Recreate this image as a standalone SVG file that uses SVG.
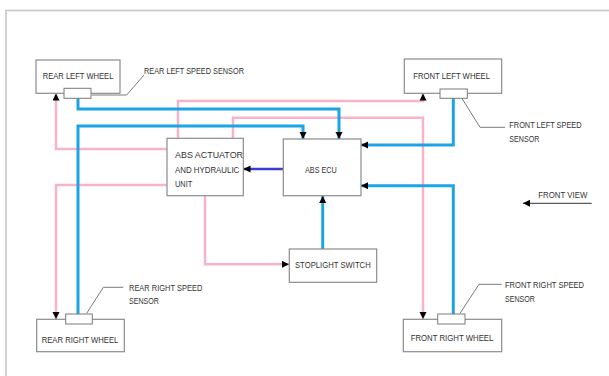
<svg xmlns="http://www.w3.org/2000/svg" width="609" height="376" viewBox="0 0 609 376">
<style>
.box{fill:#fff;stroke:#8c8c8c;stroke-width:1.2}
.sen{fill:#fff;stroke:#7a7a7a;stroke-width:1}
.t{font-family:"Liberation Sans",Arial,sans-serif;font-size:9px;fill:#333}
.blue{fill:none;stroke:#1ca4e6;stroke-width:3}
.pink{fill:none;stroke:#f7b3c9;stroke-width:2.5}
.purple{fill:none;stroke:#3d3dcc;stroke-width:2.5}
.lead{fill:none;stroke:#7a7a7a;stroke-width:1}
</style>
<defs>
<marker id="ah" markerUnits="userSpaceOnUse" markerWidth="8" markerHeight="8" refX="7" refY="3.5" orient="auto">
<path d="M0,0 L7,3.5 L0,7 z" fill="#000"/>
</marker>
</defs>
<rect width="609" height="376" fill="#fff"/>
<path d="M6,376 V10.5 H609" fill="none" stroke="#c4c4c4" stroke-width="1.5"/>

<g id="connectors">
<!-- pink -->
<path class="pink" d="M178,138 V101 H423 V93.5" marker-end="url(#ah)"/>
<path class="pink" d="M233,138 V117.7 H423 V319" marker-end="url(#ah)"/>
<path class="pink" d="M167,149 H56 V93.5" marker-end="url(#ah)"/>
<path class="pink" d="M167,185 H56 V319" marker-end="url(#ah)"/>
<path class="pink" d="M205,196 V264.3 H289" marker-end="url(#ah)"/>
<!-- blue -->
<path class="blue" d="M78,98 V109 H339 V139" marker-end="url(#ah)"/>
<path class="blue" d="M78,314 V126 H303 V139" marker-end="url(#ah)"/>
<path class="blue" d="M453.3,98 V145 H361" marker-end="url(#ah)"/>
<path class="blue" d="M453.3,314 V185.7 H361" marker-end="url(#ah)"/>
<path class="blue" d="M322.7,249 V196" marker-end="url(#ah)"/>
<path class="purple" d="M283,169 H243.5" marker-end="url(#ah)"/>
<!-- front view arrow -->
<path d="M591.7,203.3 H523" fill="none" stroke="#333" stroke-width="1" marker-end="url(#ah)"/>
<!-- leaders -->
<path class="lead" d="M91.7,95 H126.7 L144,75"/>
<path class="lead" d="M461.7,98 L480,127.3 H505"/>
<path class="lead" d="M460,313.3 L479,284.3 H501.7"/>
<path class="lead" d="M86.7,313.3 L103.3,287.3 H123.3"/>
</g>

<g id="rear-left-wheel">
<rect class="box" x="36" y="60" width="84" height="33.3"/>
<text class="t" x="42.7" y="79.3" textLength="70.7" lengthAdjust="spacingAndGlyphs">REAR LEFT WHEEL</text>
</g>
<g id="rear-left-sensor">
<rect class="sen" x="64" y="88.3" width="27" height="10"/>
<text class="t" x="144" y="74" textLength="100" lengthAdjust="spacingAndGlyphs">REAR LEFT SPEED SENSOR</text>
</g>

<g id="front-left-wheel">
<rect class="box" x="404.3" y="59" width="97.4" height="34.3"/>
<text class="t" x="413.3" y="79.3" textLength="76.7" lengthAdjust="spacingAndGlyphs">FRONT LEFT WHEEL</text>
</g>
<g id="front-left-sensor">
<rect class="sen" x="440" y="89" width="27.3" height="9.3"/>
<text class="t" x="509.3" y="128.3" textLength="72.3" lengthAdjust="spacingAndGlyphs">FRONT LEFT SPEED</text>
<text class="t" x="509.3" y="141.7" textLength="30" lengthAdjust="spacingAndGlyphs">SENSOR</text>
</g>

<g id="abs-actuator">
<rect class="box" x="167" y="138.3" width="76.3" height="57.4"/>
<text class="t" x="175" y="158.3" textLength="68" lengthAdjust="spacingAndGlyphs">ABS ACTUATOR</text>
<text class="t" x="175" y="173.3" textLength="64.3" lengthAdjust="spacingAndGlyphs">AND HYDRAULIC</text>
<text class="t" x="175" y="186.7" textLength="17.3" lengthAdjust="spacingAndGlyphs">UNIT</text>
</g>

<g id="abs-ecu">
<rect class="box" x="283.3" y="139" width="77.7" height="56.7"/>
<text class="t" x="305" y="173.3" textLength="31.7" lengthAdjust="spacingAndGlyphs">ABS ECU</text>
</g>

<g id="stoplight-switch">
<rect class="box" x="289.3" y="249" width="87.4" height="33.3"/>
<text class="t" x="295" y="268.3" textLength="75.7" lengthAdjust="spacingAndGlyphs">STOPLIGHT SWITCH</text>
</g>

<g id="front-view">
<text class="t" x="538.3" y="198.3" textLength="49" lengthAdjust="spacingAndGlyphs">FRONT VIEW</text>
</g>

<g id="rear-right-wheel">
<rect class="box" x="36.7" y="319.3" width="87.6" height="32.4"/>
<text class="t" x="41.7" y="343.3" textLength="76.7" lengthAdjust="spacingAndGlyphs">REAR RIGHT WHEEL</text>
</g>
<g id="rear-right-sensor">
<rect class="sen" x="65.7" y="314" width="26.6" height="10"/>
<text class="t" x="129" y="290.7" textLength="73.3" lengthAdjust="spacingAndGlyphs">REAR RIGHT SPEED</text>
<text class="t" x="129" y="304.3" textLength="30" lengthAdjust="spacingAndGlyphs">SENSOR</text>
</g>

<g id="front-right-wheel">
<rect class="box" x="403.3" y="319.3" width="98.4" height="32.4"/>
<text class="t" x="410.7" y="340.7" textLength="82.7" lengthAdjust="spacingAndGlyphs">FRONT RIGHT WHEEL</text>
</g>
<g id="front-right-sensor">
<rect class="sen" x="437.7" y="314" width="27.3" height="10"/>
<text class="t" x="505" y="288.3" textLength="79" lengthAdjust="spacingAndGlyphs">FRONT RIGHT SPEED</text>
<text class="t" x="505" y="301.7" textLength="30" lengthAdjust="spacingAndGlyphs">SENSOR</text>
</g>
</svg>
